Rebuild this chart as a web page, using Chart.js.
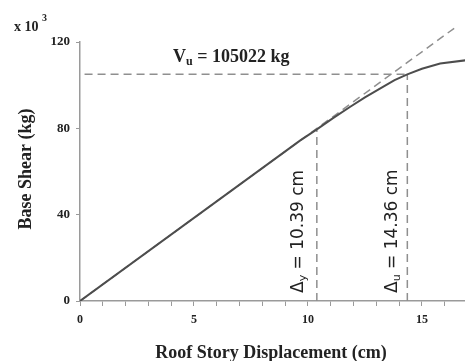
<!DOCTYPE html>
<html>
<head>
<meta charset="utf-8">
<script src="https://cdn.jsdelivr.net/npm/chart.js@4"></script>
<style>
  html, body { margin: 0; padding: 0; background: #fff; }
  canvas { display: block; }
</style>
</head>
<body>
<canvas id="chart" width="465" height="361"></canvas>
<script>
/* pushover curve: roof displacement (cm) vs base shear (x 10^3 kg) */
const dispCm   = [0, 9.65, 10.39, 11.1, 11.84, 12.5, 13.29, 13.8, 14.36, 15.0, 15.8, 16.9];
const shearKkg = [0, 74.3, 79.5, 84.7, 89.9, 94.3, 99.2, 102.3, 105.02, 107.6, 110.0, 111.5];

/* idealised elastic branch (dashed) */
const elasticDisp  = [0, 16.5];
const elasticShear = [0, 127];

/* yield / ultimate points */
const dyCm = 10.39, vyKkg = 79.5;
const duCm = 14.36, vuKkg = 105.022;
const vuStartCm = 0.2;

const xTickLabels = [0, 5, 10, 15];
const yTickLabels = [0, 40, 80, 120];

const pts = (xs, ys) => xs.map((x, i) => ({ x, y: ys[i] }));

const SERIF = '"Liberation Serif", "Times New Roman", serif';
const SANS = '"DejaVu Sans", sans-serif';
const INK = "#222";
const AXIS = "#9a9a9a";
const DASH = "#8f8f8f";

function dashed(data, extra) {
  return Object.assign({
    data, showLine: true, borderColor: DASH, borderWidth: 1.5,
    borderDash: [8, 5], pointRadius: 0,
  }, extra || {});
}

/* annotations drawn straight on the canvas */
const labels = {
  id: "labels",
  afterDraw(chart) {
    const { ctx, scales: { x } } = chart;
    ctx.save();
    ctx.fillStyle = INK;
    ctx.textBaseline = "alphabetic";

    // multiplier
    ctx.font = `bold 14px ${SERIF}`;
    ctx.textAlign = "left";
    ctx.fillText("x 10", 14, 31);
    ctx.font = `bold 10px ${SERIF}`;
    ctx.fillText("3", 42, 21);

    // axis titles
    ctx.font = `bold 18px ${SERIF}`;
    ctx.textAlign = "center";
    ctx.fillText("Roof Story Displacement (cm)", 271, 358);
    ctx.save();
    ctx.translate(31, 169);
    ctx.rotate(-Math.PI / 2);
    ctx.fillText("Base Shear (kg)", 0, 0);
    ctx.restore();

    // Vu label
    ctx.textAlign = "left";
    let cx = 173;
    ctx.font = `bold 18px ${SERIF}`;
    ctx.fillText("V", cx, 62);
    cx += ctx.measureText("V").width;
    ctx.font = `bold 12px ${SERIF}`;
    ctx.fillText("u", cx, 65);
    cx += ctx.measureText("u").width;
    ctx.font = `bold 18px ${SERIF}`;
    ctx.fillText(" = " + Math.round(vuKkg * 1000) + " kg", cx, 62);

    // rotated displacement labels
    const delta = (sub, val, px) => {
      ctx.save();
      ctx.translate(px, 293);
      ctx.rotate(-Math.PI / 2);
      ctx.textAlign = "left";
      let tx = 0;
      ctx.font = `17px ${SANS}`;
      ctx.fillText("\u0394", tx, 0);
      tx += ctx.measureText("\u0394").width;
      ctx.font = `11px ${SANS}`;
      ctx.fillText(sub, tx, 3);
      tx += ctx.measureText(sub).width;
      ctx.font = `17px ${SANS}`;
      ctx.fillText(" = " + val.toFixed(2) + " cm", tx, 0);
      ctx.restore();
    };
    delta("y", dyCm, x.getPixelForValue(dyCm) - 14);
    delta("u", duCm, x.getPixelForValue(duCm) - 10);

    ctx.restore();
  },
};

new Chart(document.getElementById("chart"), {
  type: "scatter",
  data: {
    datasets: [
      { data: pts(dispCm, shearKkg), showLine: true, borderColor: "#4d4d4d", borderWidth: 2, pointRadius: 0, tension: 0 },
      dashed(pts(elasticDisp, elasticShear), { clip: false }),
      dashed([{ x: vuStartCm, y: vuKkg }, { x: duCm, y: vuKkg }]),
      dashed([{ x: dyCm, y: 0 }, { x: dyCm, y: vyKkg }]),
      dashed([{ x: duCm, y: 0 }, { x: duCm, y: vuKkg }]),
    ],
  },
  options: {
    responsive: false,
    animation: false,
    layout: { padding: { top: 42, right: 0, left: 0, bottom: 0 } },
    plugins: { legend: { display: false }, tooltip: { enabled: false } },
    scales: {
      x: {
        type: "linear", min: 0, max: 16.89,
        afterFit(s) { s.height = 60; },
        grid: { drawOnChartArea: false, tickLength: 5, color: AXIS },
        border: { color: AXIS, width: 1.5 },
        ticks: {
          stepSize: 1, includeBounds: false, padding: 7, maxRotation: 0, autoSkip: false,
          color: INK, font: { family: SERIF, weight: "bold", size: 12 },
          callback: (v) => (xTickLabels.includes(v) ? v : ""),
        },
      },
      y: {
        min: 0, max: 120,
        afterFit(s) { s.width = 80; },
        grid: { drawOnChartArea: false, tickLength: 4, color: AXIS },
        border: { color: AXIS, width: 1.5 },
        ticks: {
          stepSize: 40, padding: 6,
          color: INK, font: { family: SERIF, weight: "bold", size: 13 },
          callback: (v) => (yTickLabels.includes(v) ? v : ""),
        },
      },
    },
  },
  plugins: [labels],
});
</script>
</body>
</html>
